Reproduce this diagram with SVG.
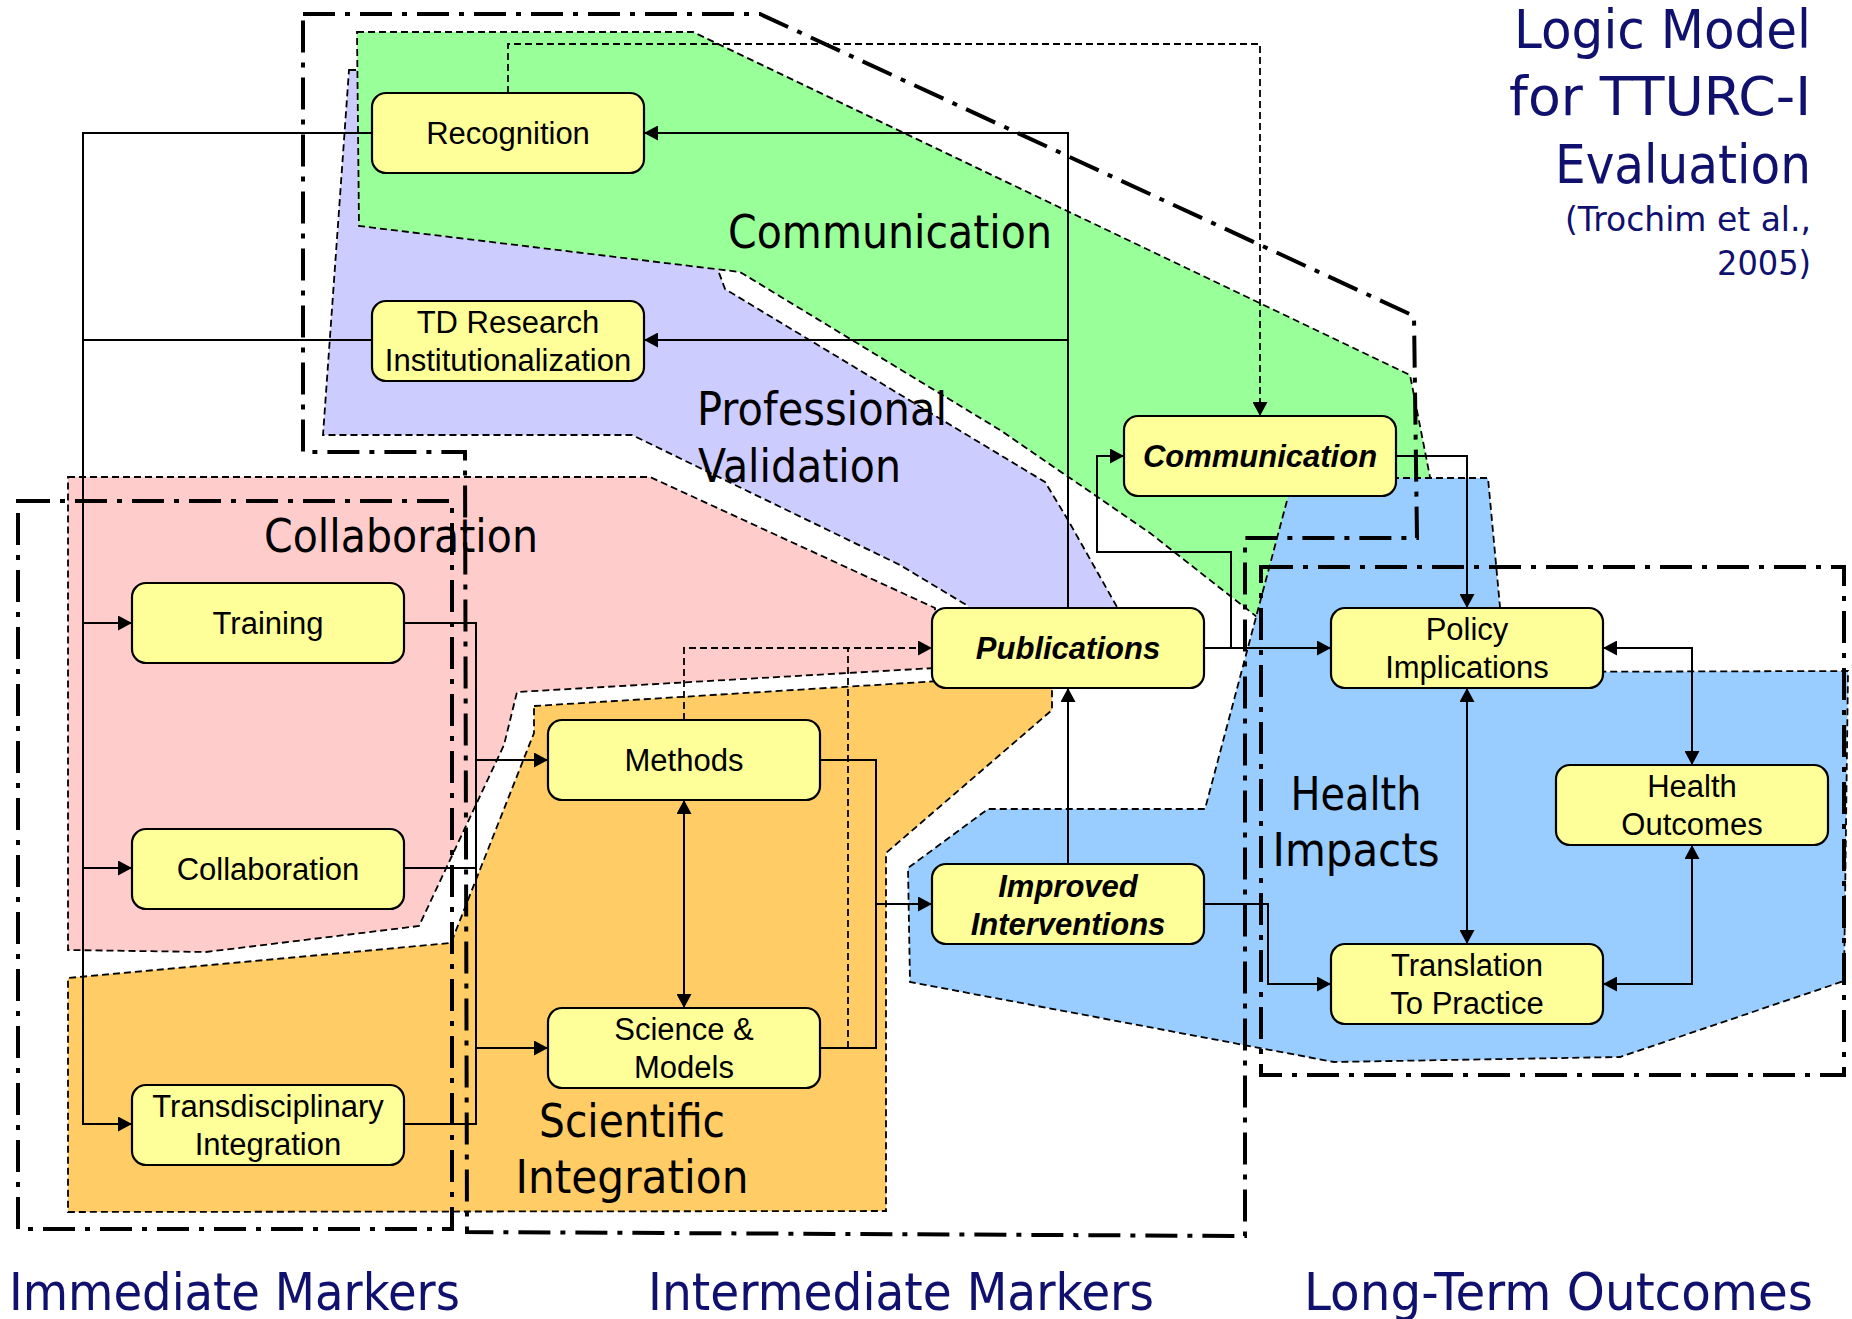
<svg xmlns="http://www.w3.org/2000/svg" width="1852" height="1319" viewBox="0 0 1852 1319">
<defs>
<style>
.region{stroke:#000;stroke-width:1.8;stroke-dasharray:7 4;}
.zone{fill:none;stroke:#000;stroke-width:4;stroke-dasharray:32 10 5 10;}
.lbl{font-family:"DejaVu Sans",Verdana,sans-serif;font-size:46px;fill:#000;}
.navy{font-family:"DejaVu Sans",Verdana,sans-serif;fill:#10106E;}
.node rect{fill:#FFFF99;stroke:#000;stroke-width:2.2;}
.node text{font-family:"Liberation Sans",Arial,sans-serif;font-size:31px;fill:#000;text-anchor:middle;}
.node text.bi{font-weight:bold;font-style:italic;}
.c{fill:none;stroke:#000;stroke-width:2;}
.d{fill:none;stroke:#000;stroke-width:1.8;stroke-dasharray:7 4;}
.a{marker-end:url(#arr);}
.b{marker-start:url(#arr);marker-end:url(#arr);}
</style>
<marker id="arr" viewBox="0 0 14 15" refX="14" refY="7.5" markerWidth="14" markerHeight="15" markerUnits="userSpaceOnUse" orient="auto-start-reverse">
<path d="M0,0 L14,7.5 L0,15 z" fill="#000"/>
</marker>
</defs>
<rect width="1852" height="1319" fill="#fff"/>

<g id="regions">
<polygon id="reg-professional" class="region" fill="#CCCCFF" points="349,70 718,70 718,270 725,289 1045,482 1068,520 1117,607 1117,615 968,615 968,606 900,565 632,435 323,435"/>
<polygon id="reg-communication" class="region" fill="#99FF99" points="357,32 693,32 1410,375 1430,477 1440,540 1257,617 1150,533 1000,430 740,272 359,226"/>
<polygon id="reg-collaboration" class="region" fill="#FFCCCC" points="68,477 650,477 935,608 935,668 517,692 504,745 419,926 206,952 68,950"/>
<polygon id="reg-scientific" class="region" fill="#FFCC66" points="534,706 940,681 1052,681 1052,710 886,853 886,1211 68,1212 68,978 451,943 534,733"/>
<polygon id="reg-health" class="region" fill="#99CCFF" points="1293,478 1488,478 1500,607 1505,672 1848,671 1844,981 1620,1057 1334,1062 910,982 908,868 988,809 1205,809"/>
</g>

<g id="region-labels">
<text class="lbl" x="728" y="248" textLength="324" lengthAdjust="spacingAndGlyphs">Communication</text>
<text class="lbl" x="697" y="425" textLength="250" lengthAdjust="spacingAndGlyphs">Professional</text>
<text class="lbl" x="698" y="482" textLength="203" lengthAdjust="spacingAndGlyphs">Validation</text>
<text class="lbl" x="264" y="552" textLength="274" lengthAdjust="spacingAndGlyphs">Collaboration</text>
<text class="lbl" x="1356" y="810" text-anchor="middle" textLength="131" lengthAdjust="spacingAndGlyphs">Health</text>
<text class="lbl" x="1356" y="866" text-anchor="middle" textLength="167" lengthAdjust="spacingAndGlyphs">Impacts</text>
<text class="lbl" x="632" y="1137" text-anchor="middle" textLength="186" lengthAdjust="spacingAndGlyphs">Scientific</text>
<text class="lbl" x="632" y="1193" text-anchor="middle" textLength="233" lengthAdjust="spacingAndGlyphs">Integration</text>
</g>

<g id="title">
<text class="navy" x="1811" y="48" font-size="54" text-anchor="end" textLength="297" lengthAdjust="spacingAndGlyphs">Logic Model</text>
<text class="navy" x="1811" y="115" font-size="54" text-anchor="end" textLength="302" lengthAdjust="spacingAndGlyphs">for TTURC-I</text>
<text class="navy" x="1811" y="183" font-size="54" text-anchor="end" textLength="256" lengthAdjust="spacingAndGlyphs">Evaluation</text>
<text class="navy" x="1811" y="231" font-size="34" text-anchor="end" textLength="246" lengthAdjust="spacingAndGlyphs">(Trochim et al.,</text>
<text class="navy" x="1811" y="275" font-size="34" text-anchor="end" textLength="94" lengthAdjust="spacingAndGlyphs">2005)</text>
</g>

<g id="bottom-labels">
<text class="navy" x="9" y="1310" font-size="51" textLength="451" lengthAdjust="spacingAndGlyphs">Immediate Markers</text>
<text class="navy" x="648" y="1310" font-size="51" textLength="506" lengthAdjust="spacingAndGlyphs">Intermediate Markers</text>
<text class="navy" x="1304" y="1310" font-size="51" textLength="509" lengthAdjust="spacingAndGlyphs">Long-Term Outcomes</text>
</g>

<g id="connectors">
<path class="c" d="M372,133 H83 V1124 H132" marker-end="url(#arr)"/>
<path class="c" d="M372,340 H83"/>
<path class="c a" d="M83,623 H132"/>
<path class="c a" d="M83,868 H132"/>
<path class="c" d="M404,623 H476 V1124 H404"/>
<path class="c" d="M404,868 H476"/>
<path class="c a" d="M476,760 H548"/>
<path class="c a" d="M476,1048 H548"/>
<path class="c" d="M820,760 H876 V1048 H820"/>
<path class="c a" d="M876,904 H932"/>
<path class="c b" d="M684,800 V1008"/>
<path class="d a" d="M684,720 V648 H932"/>
<path class="d" d="M848,1048 V648"/>
<path class="c a" d="M1068,864 V688"/>
<path class="c a" d="M1068,608 V133 H644"/>
<path class="c a" d="M1068,340 H644"/>
<path class="d a" d="M508,93 V44 H1260 V416"/>
<path class="c a" d="M1204,648 H1331"/>
<path class="c a" d="M1231,648 V552 H1097 V456 H1124"/>
<path class="c a" d="M1396,456 H1467 V608"/>
<path class="c a" d="M1204,904 H1268 V984 H1331"/>
<path class="c b" d="M1467,688 V944"/>
<path class="c b" d="M1603,648 H1692 V765"/>
<path class="c b" d="M1603,984 H1692 V845"/>
</g>

<g id="zones">
<polygon class="zone" points="303,14 760,14 1414,316 1417,538 1245,538 1245,1236 467,1232 465,452 303,452"/>
<rect class="zone" x="18" y="501" width="434" height="728"/>
<rect class="zone" x="1261" y="567" width="583" height="508"/>
</g>

<g id="n-recognition" class="node"><rect x="372" y="93" width="272" height="80" rx="14"/><text x="508" y="144">Recognition</text></g>
<g id="n-tdresearch" class="node"><rect x="372" y="301" width="272" height="80" rx="14"/><text x="508" y="333">TD Research</text><text x="508" y="371">Institutionalization</text></g>
<g id="n-communication" class="node"><rect x="1124" y="416" width="272" height="80" rx="14"/><text class="bi" x="1260" y="467">Communication</text></g>
<g id="n-training" class="node"><rect x="132" y="583" width="272" height="80" rx="14"/><text x="268" y="634">Training</text></g>
<g id="n-collaboration" class="node"><rect x="132" y="829" width="272" height="80" rx="14"/><text x="268" y="880">Collaboration</text></g>
<g id="n-transdisciplinary" class="node"><rect x="132" y="1085" width="272" height="80" rx="14"/><text x="268" y="1117">Transdisciplinary</text><text x="268" y="1155">Integration</text></g>
<g id="n-methods" class="node"><rect x="548" y="720" width="272" height="80" rx="14"/><text x="684" y="771">Methods</text></g>
<g id="n-science" class="node"><rect x="548" y="1008" width="272" height="80" rx="14"/><text x="684" y="1040">Science &amp;</text><text x="684" y="1078">Models</text></g>
<g id="n-publications" class="node"><rect x="932" y="608" width="272" height="80" rx="14"/><text class="bi" x="1068" y="659">Publications</text></g>
<g id="n-improved" class="node"><rect x="932" y="864" width="272" height="80" rx="14"/><text class="bi" x="1068" y="897">Improved</text><text class="bi" x="1068" y="935">Interventions</text></g>
<g id="n-policy" class="node"><rect x="1331" y="608" width="272" height="80" rx="14"/><text x="1467" y="640">Policy</text><text x="1467" y="678">Implications</text></g>
<g id="n-health" class="node"><rect x="1556" y="765" width="272" height="80" rx="14"/><text x="1692" y="797">Health</text><text x="1692" y="835">Outcomes</text></g>
<g id="n-translation" class="node"><rect x="1331" y="944" width="272" height="80" rx="14"/><text x="1467" y="976">Translation</text><text x="1467" y="1014">To Practice</text></g>
</svg>
